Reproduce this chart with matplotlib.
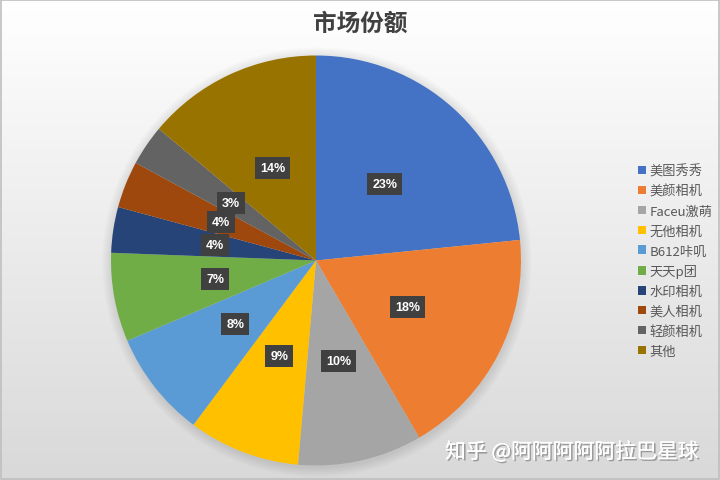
import matplotlib
matplotlib.use("Agg")
import matplotlib.pyplot as plt
import matplotlib.patheffects as pe
import numpy as np

plt.rcParams['font.family'] = ['Noto Sans CJK SC', 'DejaVu Sans']

categories = ["美图秀秀", "美颜相机", "Faceu激萌", "无他相机", "B612咔叽",
              "天天p团", "水印相机", "美人相机", "轻颜相机", "其他"]
values = [23.4, 18.2, 9.8, 8.8, 8.4, 7.0, 3.6, 3.7, 3.2, 13.9]
colors = ["#4472C4", "#ED7D31", "#A5A5A5", "#FFC000", "#5B9BD5",
          "#70AD47", "#264478", "#9E480E", "#636363", "#997300"]
title = "市场份额"
watermark = "知乎 @阿阿阿阿阿拉巴星球"

W, H = 720, 481
fig = plt.figure(figsize=(W / 100, H / 100), dpi=100)

# background gradient
bg = fig.add_axes([0, 0, 1, 1])
grad = np.linspace(1.0, 0.85, 256).reshape(-1, 1)
bg.imshow(np.dstack([grad, grad, grad]), aspect='auto', extent=[0, 1, 0, 1])
bg.add_patch(plt.Rectangle((0.002, 0.003), 0.996, 0.994, fill=False,
                           edgecolor="#bfbfbf", lw=1.2, transform=bg.transAxes))
bg.set_axis_off()

cx, cy, r = 316, 481 - 261.5, 205
ax = fig.add_axes([(cx - r) / W, (cy - r) / H, 2 * r / W, 2 * r / H])
ax.set_axis_off()
# soft shadow behind pie
for k in range(8):
    ax.add_patch(plt.Circle((0.004, -0.008), 1.0 + 0.006 * (8 - k),
                            color="black", alpha=0.012, lw=0, zorder=0,
                            clip_on=False))
wedges, texts, autotexts = ax.pie(
    values, colors=colors, startangle=90, counterclock=False,
    autopct=lambda p: f"{p:.0f}%", pctdistance=0.5,
    wedgeprops=dict(linewidth=0),
    textprops=dict(color="white", fontsize=9, fontweight="bold",
                   family=['Liberation Sans', 'DejaVu Sans']))
for t in autotexts:
    t.set_bbox(dict(boxstyle="square,pad=0.4", facecolor="#404040",
                    edgecolor="none"))
ax.set_aspect('equal')
ax.set_xlim(-1, 1)
ax.set_ylim(-1, 1)

fig.text(360 / W, 1 - 24 / H, title, ha="center", va="center",
         fontsize=17, fontweight="bold", color="#404040")

leg = fig.legend(wedges, categories, loc="center left",
                 bbox_to_anchor=(626 / W, 1 - 262 / H), frameon=False,
                 fontsize=9.5, handlelength=0.6, handleheight=0.6,
                 handletextpad=0.3, labelspacing=0.52, labelcolor="#595959")

fig.text(572 / W, 1 - 453 / H, watermark, ha="center", va="center",
         fontsize=15, color="white",
         path_effects=[pe.withSimplePatchShadow(offset=(1.2, -1.2),
                                                shadow_rgbFace="#808080",
                                                alpha=0.7), pe.Normal()])

fig.savefig("out.png", dpi=100)
